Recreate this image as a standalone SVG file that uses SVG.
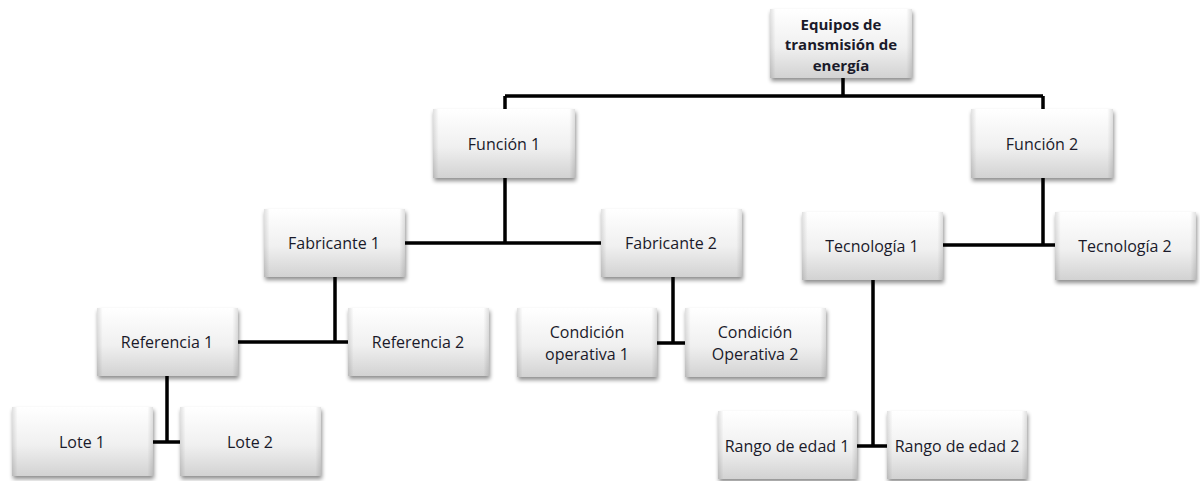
<svg xmlns="http://www.w3.org/2000/svg" width="1200" height="481" viewBox="0 0 1200 481">
  <defs>
    <linearGradient id="boxFill" x1="0" y1="0" x2="0" y2="1">
      <stop offset="0" stop-color="#ffffff"/>
      <stop offset="0.55" stop-color="#f0f0f0"/>
      <stop offset="1" stop-color="#d2d2d2"/>
    </linearGradient>
    <linearGradient id="edgeShade" x1="0" y1="0" x2="1" y2="0">
      <stop offset="0" stop-color="#000" stop-opacity="0.12"/>
      <stop offset="0.04" stop-color="#000" stop-opacity="0"/>
      <stop offset="0.96" stop-color="#000" stop-opacity="0"/>
      <stop offset="1" stop-color="#000" stop-opacity="0.12"/>
    </linearGradient>
    <filter id="shadow" x="-10%" y="-10%" width="125%" height="135%">
      <feGaussianBlur in="SourceAlpha" stdDeviation="2"/>
      <feOffset dx="1" dy="3" result="b"/>
      <feComponentTransfer><feFuncA type="linear" slope="0.45"/></feComponentTransfer>
      <feMerge><feMergeNode/><feMergeNode in="SourceGraphic"/></feMerge>
    </filter>
  </defs>
  <style>
    .box { fill: url(#boxFill); filter: url(#shadow); }
    .edge { fill: url(#edgeShade); }
    .lbl { font-family: "Open Sans", "Liberation Sans", sans-serif; font-size: 16px; fill: #1a1a2a; text-anchor: middle; }
    .bold { font-weight: bold; font-size: 15px; }
    .wire { stroke: #000; stroke-width: 3.5; fill: none; }
  </style>

  <g id="connectors">
    <path class="wire" d="M843 78V96M505 96H1043M505 96V109M1043 96V109"/>
    <path class="wire" d="M505 178V243M405 243H601"/>
    <path class="wire" d="M1043 178V245M943 245H1055"/>
    <path class="wire" d="M335 277V342M238 342H348"/>
    <path class="wire" d="M673 277V343M657 343H685"/>
    <path class="wire" d="M873 280V446M857 446H887"/>
    <path class="wire" d="M167 376V442M153 442H180"/>
  </g>

  <g id="root">
    <rect class="box" x="770" y="9" width="142" height="69"/>
    <rect class="edge" x="770" y="9" width="142" height="69"/>
    <text class="lbl bold" x="841" y="30">Equipos de</text>
    <text class="lbl bold" x="841" y="50">transmisión de</text>
    <text class="lbl bold" x="841" y="71">energía</text>
  </g>

  <g id="funcion1">
    <rect class="box" x="433" y="109" width="142" height="69"/>
    <rect class="edge" x="433" y="109" width="142" height="69"/>
    <text class="lbl" x="504" y="150">Función 1</text>
  </g>

  <g id="funcion2">
    <rect class="box" x="971" y="109" width="142" height="69"/>
    <rect class="edge" x="971" y="109" width="142" height="69"/>
    <text class="lbl" x="1042" y="150">Función 2</text>
  </g>

  <g id="fabricante1">
    <rect class="box" x="264" y="209" width="141" height="68"/>
    <rect class="edge" x="264" y="209" width="141" height="68"/>
    <text class="lbl" x="334" y="249">Fabricante 1</text>
  </g>

  <g id="fabricante2">
    <rect class="box" x="601" y="209" width="141" height="68"/>
    <rect class="edge" x="601" y="209" width="141" height="68"/>
    <text class="lbl" x="671" y="249">Fabricante 2</text>
  </g>

  <g id="tecnologia1">
    <rect class="box" x="802" y="212" width="141" height="68"/>
    <rect class="edge" x="802" y="212" width="141" height="68"/>
    <text class="lbl" x="872" y="252">Tecnología 1</text>
  </g>

  <g id="tecnologia2">
    <rect class="box" x="1055" y="212" width="141" height="68"/>
    <rect class="edge" x="1055" y="212" width="141" height="68"/>
    <text class="lbl" x="1125" y="252">Tecnología 2</text>
  </g>

  <g id="referencia1">
    <rect class="box" x="97" y="308" width="141" height="68"/>
    <rect class="edge" x="97" y="308" width="141" height="68"/>
    <text class="lbl" x="167" y="348">Referencia 1</text>
  </g>

  <g id="referencia2">
    <rect class="box" x="348" y="308" width="141" height="68"/>
    <rect class="edge" x="348" y="308" width="141" height="68"/>
    <text class="lbl" x="418" y="348">Referencia 2</text>
  </g>

  <g id="condicion1">
    <rect class="box" x="517" y="308" width="140" height="69"/>
    <rect class="edge" x="517" y="308" width="140" height="69"/>
    <text class="lbl" x="587" y="338">Condición</text>
    <text class="lbl" x="587" y="360">operativa 1</text>
  </g>

  <g id="condicion2">
    <rect class="box" x="685" y="308" width="141" height="69"/>
    <rect class="edge" x="685" y="308" width="141" height="69"/>
    <text class="lbl" x="755" y="338">Condición</text>
    <text class="lbl" x="755" y="360">Operativa 2</text>
  </g>

  <g id="lote1">
    <rect class="box" x="12" y="407" width="141" height="69"/>
    <rect class="edge" x="12" y="407" width="141" height="69"/>
    <text class="lbl" x="82" y="448">Lote 1</text>
  </g>

  <g id="lote2">
    <rect class="box" x="180" y="407" width="141" height="69"/>
    <rect class="edge" x="180" y="407" width="141" height="69"/>
    <text class="lbl" x="250" y="448">Lote 2</text>
  </g>

  <g id="rango1">
    <rect class="box" x="718" y="411" width="139" height="68"/>
    <rect class="edge" x="718" y="411" width="139" height="68"/>
    <text class="lbl" x="787" y="452">Rango de edad 1</text>
  </g>

  <g id="rango2">
    <rect class="box" x="887" y="411" width="140" height="68"/>
    <rect class="edge" x="887" y="411" width="140" height="68"/>
    <text class="lbl" x="957" y="452">Rango de edad 2</text>
  </g>
</svg>
